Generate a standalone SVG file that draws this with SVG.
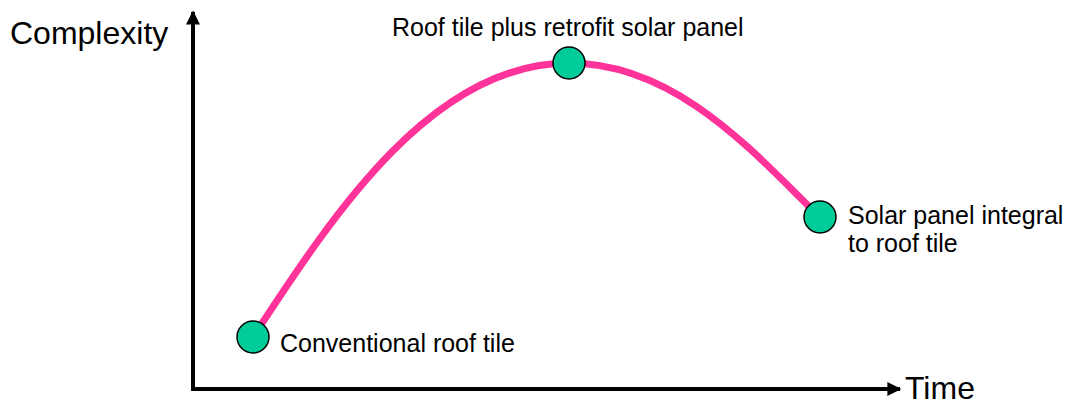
<svg xmlns="http://www.w3.org/2000/svg" width="1070" height="405" viewBox="0 0 1070 405">
<style>
text{font-family:"Liberation Sans",Arial,sans-serif;fill:#000}
.big{font-size:32px}
.lbl{font-size:25px}
.node{fill:#00CC99;stroke:#000;stroke-width:1.5}
</style>
<defs>
<marker id="ah" viewBox="0 0 10 10" refX="9" refY="5" markerWidth="4" markerHeight="3.5" orient="auto" markerUnits="strokeWidth">
<path d="M0,0 L10,5 L0,10 z" fill="#000"/>
</marker>
</defs>
<rect width="1070" height="405" fill="#fff"/>
<g id="axes">
<line x1="193" y1="391" x2="193" y2="12" stroke="#000" stroke-width="4" marker-end="url(#ah)"/>
<line x1="191" y1="389" x2="900" y2="389" stroke="#000" stroke-width="4" marker-end="url(#ah)"/>
<text class="big" x="10" y="44">Complexity</text>
<text class="big" x="905" y="399">Time</text>
</g>
<g id="connectors">
<path d="M253,337 C330,220 430,63 569,63 C680,63 760,160 820,217" fill="none" stroke="#FF3399" stroke-width="7"/>
</g>
<g id="n1">
<circle class="node" cx="253" cy="337" r="16"/>
<text class="lbl" x="280" y="352">Conventional roof tile</text>
</g>
<g id="n2">
<circle class="node" cx="569" cy="63" r="16"/>
<text class="lbl" x="392" y="36">Roof tile plus retrofit solar panel</text>
</g>
<g id="n3">
<circle class="node" cx="820" cy="217" r="16"/>
<text class="lbl" x="848" y="224">Solar panel integral</text>
<text class="lbl" x="848" y="252">to roof tile</text>
</g>
</svg>
